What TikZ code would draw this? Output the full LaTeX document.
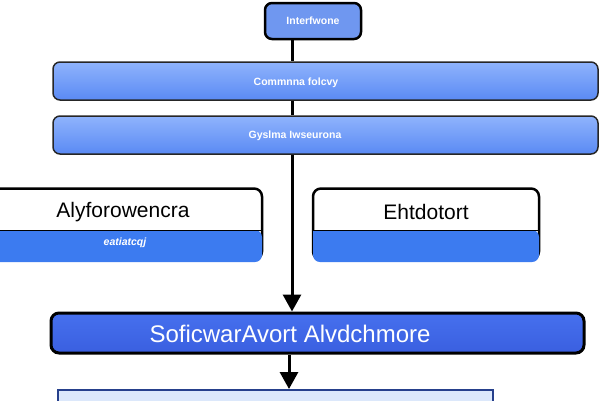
\documentclass[tikz,border=0pt]{standalone}
\usepackage{fontspec}
\setmainfont{Liberation Sans}
\usetikzlibrary{arrows.meta,positioning}

\definecolor{layertop}{HTML}{8FB3FC}
\definecolor{layerbot}{HTML}{5A8AF4}
\definecolor{headblue}{HTML}{6F97F0}
\definecolor{halfblue}{HTML}{3C7BF0}
\definecolor{softtop}{HTML}{4670EE}
\definecolor{softbot}{HTML}{3A5FE0}
\definecolor{nextfill}{HTML}{DCE8FB}
\definecolor{nextline}{HTML}{26408C}

\begin{document}
\begin{tikzpicture}[
        x=1pt, y=-1pt,
        small/.style={text=white, font=\fontsize{10.5}{12}\selectfont\bfseries},
        layer/.style={rectangle, draw=black!85, line width=1.5pt, rounded corners=7pt, top color=layertop, bottom color=layerbot, minimum width=545pt, minimum height=38pt},
        head/.style={rectangle, draw=black, line width=2.5pt, rounded corners=7pt, fill=headblue, minimum width=96pt, minimum height=36pt, small},
        halfbox/.style={rectangle, draw=black, line width=2.5pt, rounded corners=8pt, fill=white, minimum height=71pt},
        soft/.style={rectangle, draw=black, line width=3pt, rounded corners=8pt, top color=softtop, bottom color=softbot, minimum width=533pt, minimum height=40pt},
        arrow/.style={-{Triangle[width=18pt,length=17pt]}, line width=3pt},
        link/.style={line width=3pt}
    ]
        \useasboundingbox (0,0) rectangle (600,400);

        % top of the stack
        \node[head] (iface) at (313,21) {Interfwone};
        \node[layer] (comm) at (325.5,81) {};
        \node[small] (commtext) at (296,83) {Commnna folcvy};
        \node[layer] (sys) at (325.5,135) {};
        \node[small] (systext) at (295,136) {Gyslma Iwseurona};

        % two split boxes
        \node[halfbox, minimum width=272pt] (algo) at (126,224) {};
        \fill[halfblue, rounded corners=7pt] ([xshift=1.25pt]algo.west |- 0,230) -- ([shift={(1.25pt,-1.25pt)}]algo.south west) -- ([shift={(-1.25pt,-1.25pt)}]algo.south east) -- ([xshift=-1.25pt]algo.east |- 0,230) [sharp corners] -- cycle;
        \draw[line width=1pt] (algo.west |- 0,230) -- (algo.east |- 0,230);
        \node[font=\fontsize{21}{24}\selectfont] (algotext) at (123,212) {Alyforowencra};
        \node[small, font=\fontsize{10.5}{12}\selectfont\bfseries\itshape] (algosub) at (125,243) {eatiatcqj};

        \node[halfbox, minimum width=226pt] (ext) at (426,224) {};
        \fill[halfblue, rounded corners=7pt] ([xshift=1.25pt]ext.west |- 0,230) -- ([shift={(1.25pt,-1.25pt)}]ext.south west) -- ([shift={(-1.25pt,-1.25pt)}]ext.south east) -- ([xshift=-1.25pt]ext.east |- 0,230) [sharp corners] -- cycle;
        \draw[line width=1pt] (ext.west |- 0,230) -- (ext.east |- 0,230);
        \node[font=\fontsize{21}{24}\selectfont] (exttext) at (426,212) {Ehtdotort};

        % bottom
        \node[soft] (sw) at (317.5,333) {};
        \node[text=white, font=\fontsize{24}{28}\selectfont] (swtext) at (290,334) {SoficwarAvort Alvdchmore};
        \node[rectangle, draw=nextline, line width=1.5pt, fill=nextfill, minimum width=435pt, minimum height=40pt, anchor=north west] (next) at (57,389) {};

        \draw[link] (iface.south -| 292,0) -- (comm.north -| 292,0);
        \draw[link] (comm.south -| 292,0) -- (sys.north -| 292,0);
        \draw[arrow] (sys.south -| 292,0) -- (sw.north -| 292,0);
        \draw[arrow] (sw.south -| 289,0) -- (next.north -| 289,0);
    \end{tikzpicture}
\end{document}
